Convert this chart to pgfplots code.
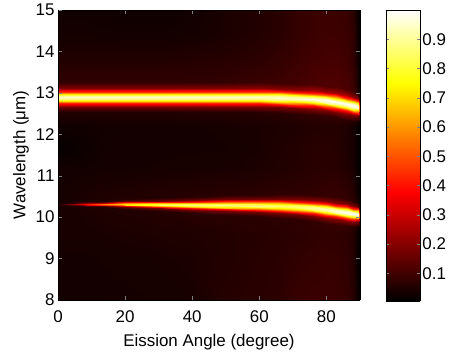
\documentclass[border=0pt]{standalone}
\usepackage{fontspec}
\setmainfont{Liberation Sans}
\usepackage{pgfplots}
\pgfplotsset{compat=1.18}
\pgfplotsset{
  colormap={mhot}{rgb(0)=(0,0,0); rgb(3)=(1,0,0); rgb(6)=(1,1,0); rgb(8)=(1,1,1)},
}
\begin{document}
\begin{tikzpicture}
\begin{axis}[
  name=main,
  view={0}{90},
  scale only axis,
  width=302bp, height=290bp,
  xmin=0, xmax=90, ymin=8, ymax=15,
  xtick={0,20,40,60,80},
  ytick={8,9,10,11,12,13,14,15},
  tick align=inside,
  major tick length=4bp,
  axis line style={black, line width=0.5bp},
  font=\fontsize{17}{20}\selectfont,
  /pgf/number format/assume math mode=true,
  xticklabel style={yshift=-7bp},
  xlabel style={yshift=-5bp},
  xlabel={Eission Angle (degree)},
  ylabel={Wavelength (μm)},
  colormap name=mhot,
  point meta min=0.005, point meta max=1,
  axis on top,
]
\addplot3[surf, shader=interp, mesh/ordering=y varies, point meta=explicit] table[x=a, y=y, z expr=0, meta=v] {
a y v
0 8 0.035
0 9 0.035
0 9.6 0.04
0 10.2705 0.04
0 10.29 0.04
0 10.3005 0.04
0 10.308 0.04
0 10.314 0.04
0 10.32 0.04
0 10.326 0.04
0 10.332 0.04
0 10.3395 0.04
0 10.35 0.04
0 10.3695 0.04
0 11.2 0.032
0 11.7 0.012
0 12.2 0.03
0 12.527 0.054
0 12.67 0.170
0 12.747 0.433
0 12.802 0.696
0 12.846 0.871
0 12.89 0.95
0 12.934 0.891
0 12.978 0.716
0 13.033 0.453
0 13.11 0.190
0 13.253 0.074
0 13.8 0.055
0 14.4 0.035
0 15 0.03

4 8 0.035
4 9 0.035
4 9.6 0.04
4 10.2705 0.041
4 10.29 0.062
4 10.3005 0.109
4 10.308 0.156
4 10.314 0.188
4 10.32 0.2
4 10.326 0.188
4 10.332 0.156
4 10.3395 0.109
4 10.35 0.062
4 10.3695 0.041
4 11.2 0.032
4 11.7 0.018
4 12.2 0.03
4 12.527 0.054
4 12.67 0.170
4 12.747 0.433
4 12.802 0.696
4 12.846 0.871
4 12.89 0.95
4 12.934 0.891
4 12.978 0.716
4 13.033 0.453
4 13.11 0.190
4 13.253 0.074
4 13.8 0.055
4 14.4 0.035
4 15 0.03

8 8 0.035
8 9 0.035
8 9.6 0.04
8 10.254 0.046
8 10.28 0.093
8 10.294 0.198
8 10.304 0.303
8 10.312 0.373
8 10.32 0.4
8 10.328 0.373
8 10.336 0.303
8 10.346 0.198
8 10.36 0.093
8 10.386 0.046
8 11.2 0.032
8 11.7 0.025
8 12.2 0.03
8 12.527 0.054
8 12.67 0.170
8 12.747 0.433
8 12.802 0.696
8 12.846 0.871
8 12.89 0.95
8 12.934 0.891
8 12.978 0.716
8 13.033 0.453
8 13.11 0.190
8 13.253 0.074
8 13.8 0.055
8 14.4 0.035
8 15 0.03

14 8 0.035
14 9 0.037
14 9.6 0.042
14 10.2355 0.052
14 10.268 0.124
14 10.2855 0.287
14 10.298 0.449
14 10.308 0.558
14 10.318 0.6
14 10.328 0.558
14 10.338 0.449
14 10.3505 0.287
14 10.368 0.124
14 10.4005 0.052
14 11.2 0.034
14 11.7 0.033
14 12.2 0.032
14 12.527 0.054
14 12.67 0.170
14 12.747 0.433
14 12.802 0.696
14 12.846 0.871
14 12.89 0.95
14 12.934 0.891
14 12.978 0.716
14 13.033 0.453
14 13.11 0.190
14 13.253 0.074
14 13.8 0.055
14 14.4 0.033
14 15 0.03

20 8 0.035
20 9 0.038
20 9.6 0.045
20 10.1962 0.053
20 10.243 0.145
20 10.2682 0.351
20 10.2862 0.558
20 10.3006 0.696
20 10.315 0.75
20 10.3294 0.696
20 10.3438 0.558
20 10.3618 0.351
20 10.387 0.145
20 10.4338 0.053
20 11.2 0.035
20 11.7 0.035
20 12.2 0.034
20 12.527 0.054
20 12.67 0.170
20 12.747 0.433
20 12.802 0.696
20 12.846 0.871
20 12.89 0.95
20 12.934 0.891
20 12.978 0.716
20 13.033 0.453
20 13.11 0.190
20 13.253 0.074
20 13.8 0.055
20 14.4 0.032
20 15 0.028

30 8 0.037
30 9 0.04
30 9.6 0.048
30 10.1466 0.058
30 10.209 0.162
30 10.2426 0.397
30 10.2666 0.632
30 10.2858 0.789
30 10.305 0.85
30 10.3242 0.789
30 10.3434 0.632
30 10.3674 0.397
30 10.401 0.162
30 10.4634 0.058
30 11.2 0.037
30 11.7 0.035
30 12.2 0.035
30 12.527 0.054
30 12.67 0.170
30 12.747 0.433
30 12.802 0.696
30 12.846 0.871
30 12.89 0.95
30 12.934 0.891
30 12.978 0.716
30 13.033 0.453
30 13.11 0.190
30 13.253 0.074
30 13.8 0.055
30 14.4 0.032
30 15 0.028

40 8 0.04
40 9 0.045
40 9.6 0.05
40 10.1 0.063
40 10.178 0.169
40 10.22 0.408
40 10.25 0.648
40 10.274 0.808
40 10.298 0.87
40 10.322 0.808
40 10.346 0.648
40 10.376 0.408
40 10.418 0.169
40 10.496 0.063
40 11.2 0.038
40 11.7 0.035
40 12.2 0.036
40 12.527 0.056
40 12.67 0.172
40 12.747 0.434
40 12.802 0.697
40 12.846 0.872
40 12.89 0.95
40 12.934 0.892
40 12.978 0.717
40 13.033 0.454
40 13.11 0.192
40 13.253 0.076
40 13.8 0.058
40 14.4 0.035
40 15 0.032

50 8 0.06
50 9 0.055
50 9.6 0.055
50 10.0524 0.065
50 10.146 0.172
50 10.1964 0.414
50 10.2324 0.656
50 10.2612 0.817
50 10.29 0.88
50 10.3188 0.817
50 10.3476 0.656
50 10.3836 0.414
50 10.434 0.172
50 10.5276 0.065
50 11.2 0.04
50 11.7 0.036
50 12.2 0.038
50 12.527 0.059
50 12.67 0.174
50 12.747 0.436
50 12.802 0.698
50 12.846 0.872
50 12.89 0.95
50 12.934 0.892
50 12.978 0.718
50 13.033 0.456
50 13.11 0.194
50 13.253 0.079
50 13.8 0.062
50 14.4 0.045
50 15 0.045

60 8 0.065
60 9 0.062
60 9.6 0.06
60 10.016 0.068
60 10.12 0.175
60 10.176 0.416
60 10.216 0.657
60 10.248 0.817
60 10.28 0.88
60 10.312 0.817
60 10.344 0.657
60 10.384 0.416
60 10.44 0.175
60 10.544 0.068
60 11.2 0.046
60 11.7 0.042
60 12.2 0.042
60 12.527 0.062
60 12.67 0.177
60 12.747 0.436
60 12.802 0.696
60 12.846 0.869
60 12.89 0.95
60 12.934 0.896
60 12.978 0.723
60 13.033 0.463
60 13.11 0.204
60 13.253 0.089
60 13.8 0.07
60 14.4 0.055
60 15 0.055

66 8 0.07
66 9 0.066
66 9.6 0.063
66 9.9895 0.071
66 10.1 0.176
66 10.1595 0.413
66 10.202 0.650
66 10.236 0.808
66 10.27 0.87
66 10.304 0.808
66 10.338 0.650
66 10.3805 0.413
66 10.44 0.176
66 10.5505 0.071
66 11.2 0.052
66 11.7 0.05
66 12.2 0.046
66 12.512 0.064
66 12.655 0.178
66 12.732 0.436
66 12.787 0.695
66 12.831 0.868
66 12.875 0.95
66 12.919 0.898
66 12.963 0.725
66 13.018 0.466
66 13.095 0.208
66 13.238 0.094
66 13.8 0.08
66 14.4 0.065
66 15 0.062

71 8 0.085
71 9 0.075
71 9.6 0.068
71 9.953 0.073
71 10.07 0.178
71 10.133 0.414
71 10.178 0.651
71 10.214 0.808
71 10.25 0.87
71 10.286 0.808
71 10.322 0.651
71 10.367 0.414
71 10.43 0.178
71 10.547 0.073
71 11.2 0.057
71 11.7 0.055
71 12.2 0.05
71 12.497 0.069
71 12.64 0.182
71 12.717 0.438
71 12.772 0.695
71 12.816 0.866
71 12.86 0.95
71 12.904 0.901
71 12.948 0.730
71 13.003 0.473
71 13.08 0.217
71 13.223 0.104
71 13.8 0.09
71 14.4 0.08
71 15 0.08

76 8 0.09
76 9 0.08
76 9.6 0.072
76 9.9065 0.078
76 10.03 0.186
76 10.0965 0.430
76 10.144 0.674
76 10.182 0.836
76 10.22 0.9
76 10.258 0.836
76 10.296 0.674
76 10.3435 0.430
76 10.41 0.186
76 10.5335 0.078
76 11.2 0.062
76 11.7 0.062
76 12.2 0.055
76 12.477 0.074
76 12.62 0.189
76 12.697 0.448
76 12.752 0.709
76 12.796 0.882
76 12.84 0.97
76 12.884 0.922
76 12.928 0.749
76 12.983 0.488
76 13.06 0.229
76 13.203 0.114
76 13.8 0.1
76 14.4 0.09
76 15 0.09

80 8 0.09
80 9 0.085
80 9.6 0.075
80 9.8616 0.083
80 9.989 0.196
80 10.0576 0.450
80 10.1066 0.704
80 10.1458 0.874
80 10.185 0.94
80 10.2242 0.874
80 10.2634 0.704
80 10.3124 0.450
80 10.381 0.196
80 10.5084 0.083
80 11.2 0.065
80 11.7 0.063
80 12.2 0.058
80 12.447 0.079
80 12.59 0.196
80 12.667 0.459
80 12.722 0.723
80 12.766 0.899
80 12.81 0.99
80 12.854 0.944
80 12.898 0.768
80 12.953 0.504
80 13.03 0.241
80 13.173 0.124
80 13.8 0.105
80 14.4 0.095
80 15 0.092

83 8 0.088
83 9 0.082
83 9.6 0.075
83 9.82 0.084
83 9.95 0.200
83 10.02 0.463
83 10.07 0.726
83 10.11 0.902
83 10.15 0.97
83 10.19 0.902
83 10.23 0.726
83 10.28 0.463
83 10.35 0.200
83 10.48 0.084
83 11.2 0.063
83 11.7 0.06
83 12.2 0.058
83 12.407 0.079
83 12.55 0.197
83 12.627 0.463
83 12.682 0.730
83 12.726 0.908
83 12.77 1.0
83 12.814 0.953
83 12.858 0.775
83 12.913 0.508
83 12.99 0.242
83 13.133 0.124
83 13.8 0.105
83 14.4 0.095
83 15 0.09

86 8 0.08
86 9 0.075
86 9.6 0.07
86 9.78 0.079
86 9.91 0.200
86 9.98 0.473
86 10.03 0.747
86 10.07 0.929
86 10.11 1.0
86 10.15 0.929
86 10.19 0.747
86 10.24 0.473
86 10.31 0.200
86 10.44 0.079
86 11.2 0.052
86 11.7 0.048
86 12.2 0.05
86 12.357 0.074
86 12.5 0.193
86 12.577 0.461
86 12.632 0.731
86 12.676 0.910
86 12.72 1.0
86 12.764 0.950
86 12.808 0.771
86 12.863 0.501
86 12.94 0.233
86 13.083 0.114
86 13.8 0.095
86 14.4 0.09
86 15 0.085

88 8 0.06
88 9 0.06
88 9.6 0.055
88 9.7599 0.069
88 9.886 0.191
88 9.9539 0.467
88 10.0024 0.744
88 10.0412 0.928
88 10.08 1.0
88 10.1188 0.928
88 10.1576 0.744
88 10.2061 0.467
88 10.274 0.191
88 10.4001 0.069
88 11.2 0.04
88 11.7 0.035
88 12.2 0.04
88 12.322 0.064
88 12.465 0.185
88 12.542 0.458
88 12.597 0.732
88 12.641 0.914
88 12.685 1.0
88 12.729 0.944
88 12.773 0.762
88 12.828 0.488
88 12.905 0.215
88 13.048 0.094
88 13.8 0.08
88 14.4 0.075
88 15 0.07

89.3 8 0.02
89.3 9 0.02
89.3 9.6 0.02
89.3 9.7581 0.034
89.3 9.879 0.157
89.3 9.9441 0.434
89.3 9.9906 0.712
89.3 10.0278 0.898
89.3 10.065 0.97
89.3 10.1022 0.898
89.3 10.1394 0.712
89.3 10.1859 0.434
89.3 10.251 0.157
89.3 10.3719 0.034
89.3 11.2 0.015
89.3 11.7 0.015
89.3 12.2 0.015
89.3 12.302 0.034
89.3 12.445 0.156
89.3 12.522 0.432
89.3 12.577 0.709
89.3 12.621 0.893
89.3 12.665 0.97
89.3 12.709 0.903
89.3 12.753 0.719
89.3 12.808 0.442
89.3 12.885 0.166
89.3 13.028 0.044
89.3 13.8 0.03
89.3 14.4 0.025
89.3 15 0.02

90 8 0.005
90 9 0.005
90 9.6 0.005
90 9.7696 0.006
90 9.884 0.025
90 9.9456 0.067
90 9.9896 0.110
90 10.0248 0.139
90 10.06 0.15
90 10.0952 0.139
90 10.1304 0.110
90 10.1744 0.067
90 10.236 0.025
90 10.3504 0.006
90 11.2 0.005
90 11.7 0.005
90 12.2 0.005
90 12.297 0.006
90 12.44 0.025
90 12.517 0.067
90 12.572 0.110
90 12.616 0.139
90 12.66 0.15
90 12.704 0.139
90 12.748 0.110
90 12.803 0.067
90 12.88 0.025
90 13.023 0.006
90 13.8 0.005
90 14.4 0.005
90 15 0.005
};
\end{axis}
\begin{axis}[
  at={(main.north east)}, anchor=north west, xshift=26bp,
  view={0}{90},
  scale only axis,
  width=34bp, height=291bp,
  xmin=0, xmax=1, ymin=0.005, ymax=1,
  xtick=\empty,
  ytick={0.1,0.2,0.3,0.4,0.5,0.6,0.7,0.8,0.9},
  yticklabels={0.1,0.2,0.3,0.4,0.5,0.6,0.7,0.8,0.9},
  ytick pos=both, yticklabel pos=right,
  tick align=inside, major tick length=3bp,
  axis line style={black, line width=0.5bp},
  font=\fontsize{17}{20}\selectfont,
  yticklabel style={xshift=-1bp},
  colormap name=mhot,
  point meta min=0.005, point meta max=1,
  axis on top,
]
\addplot3[surf, shader=interp, point meta=explicit] table[x=x, y=y, z expr=0, meta=y] {
x y
0 0.005
1 0.005

0 0.1
1 0.1

0 0.2
1 0.2

0 0.3
1 0.3

0 0.378
1 0.378

0 0.5
1 0.5

0 0.6
1 0.6

0 0.7
1 0.7

0 0.751
1 0.751

0 0.85
1 0.85

0 0.93
1 0.93

0 1
1 1
};
\end{axis}
\pgfresetboundingbox
\useasboundingbox ([xshift=-58bp,yshift=-52bp]main.south west) rectangle ([xshift=391bp,yshift=300bp]main.south west);
\end{tikzpicture}
\end{document}
